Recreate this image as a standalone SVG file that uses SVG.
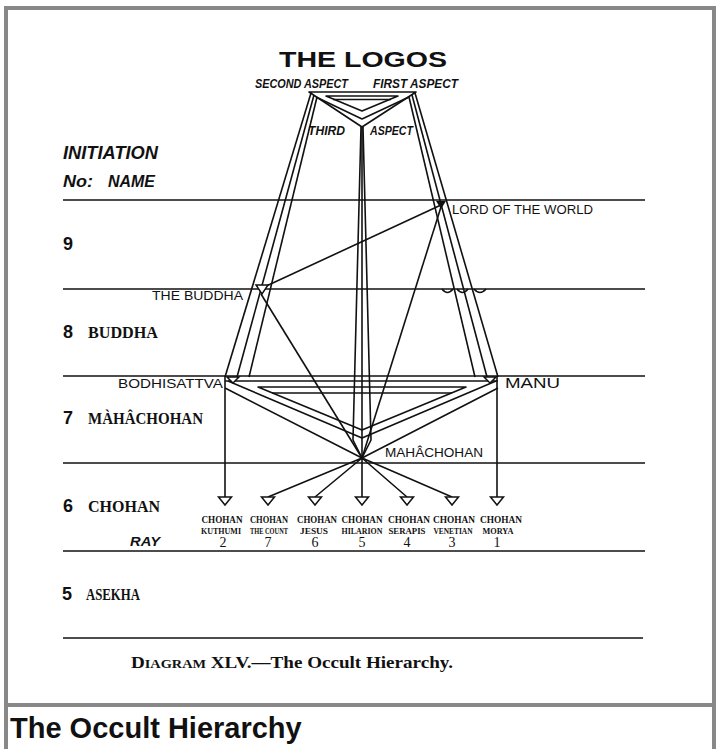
<svg xmlns="http://www.w3.org/2000/svg" width="719" height="749" viewBox="0 0 719 749">
<style>
.ln{stroke:#111;stroke-width:1.6;fill:none;stroke-linejoin:round}
.lvl{stroke:#111;stroke-width:1.5}
.sans{font-family:"Liberation Sans",Arial,sans-serif;fill:#111}
.ital{font-family:"Liberation Sans",Arial,sans-serif;font-style:italic;font-weight:bold;fill:#111}
.serif{font-family:"Liberation Serif","Times New Roman",serif;font-weight:bold;fill:#111}
.tri{fill:#fff;stroke:#111;stroke-width:1.5}
.cl{font-family:"Liberation Serif","Times New Roman",serif;font-size:9.5px;font-weight:bold;fill:#111;text-anchor:middle}
.nm{font-family:"Liberation Serif","Times New Roman",serif;font-size:7.5px;font-weight:bold;fill:#111;text-anchor:middle}
.rn{font-family:"Liberation Serif","Times New Roman",serif;font-size:14px;fill:#111;text-anchor:middle}
</style>
<rect width="719" height="749" fill="#fff"/>
<rect x="6" y="8" width="708" height="770" fill="none" stroke="#888" stroke-width="4"/>
<line x1="6" y1="705" x2="714" y2="705" stroke="#888" stroke-width="4"/>
<text x="10" y="738" class="sans" font-size="29" font-weight="bold">The Occult Hierarchy</text>

<g id="levels">
<line class="lvl" x1="63" y1="200" x2="645" y2="200"/>
<line class="lvl" x1="63" y1="289" x2="645" y2="289"/>
<line class="lvl" x1="63" y1="376" x2="645" y2="376"/>
<line class="lvl" x1="63" y1="463" x2="645" y2="463"/>
<line class="lvl" x1="63" y1="551" x2="645" y2="551"/>
<line class="lvl" x1="63" y1="638" x2="643" y2="638"/>
<text x="63" y="159" class="ital" font-size="18" textLength="95" lengthAdjust="spacingAndGlyphs">INITIATION</text>
<text x="63" y="187" class="ital" font-size="17" textLength="30" lengthAdjust="spacingAndGlyphs">No:</text>
<text x="108" y="187" class="ital" font-size="17" textLength="47" lengthAdjust="spacingAndGlyphs">NAME</text>
<text x="63" y="250" class="sans" font-size="18" font-weight="bold">9</text>
<text x="63" y="338" class="sans" font-size="18" font-weight="bold">8</text>
<text x="88" y="338" class="serif" font-size="16" textLength="70" lengthAdjust="spacingAndGlyphs">BUDDHA</text>
<text x="63" y="424" class="sans" font-size="18" font-weight="bold">7</text>
<text x="88" y="424" class="serif" font-size="16" textLength="115" lengthAdjust="spacingAndGlyphs">MÀHÂCHOHAN</text>
<text x="63" y="512" class="sans" font-size="18" font-weight="bold">6</text>
<text x="88" y="512" class="serif" font-size="16" textLength="72" lengthAdjust="spacingAndGlyphs">CHOHAN</text>
<text x="62" y="600" class="sans" font-size="18" font-weight="bold">5</text>
<text x="86" y="600" class="serif" font-size="16" textLength="54" lengthAdjust="spacingAndGlyphs">ASEKHA</text>
<text x="130" y="546" class="ital" font-size="12" textLength="30" lengthAdjust="spacingAndGlyphs">RAY</text>
</g>

<g id="connectors">
<path class="ln" d="M311,93 L225,377"/>
<path class="ln" d="M314,95 L237,377"/>
<path class="ln" d="M317,97 L249,377"/>
<path class="ln" d="M415,93 L498,377"/>
<path class="ln" d="M412,95 L487,377"/>
<path class="ln" d="M409,97 L475,377"/>
<path class="ln" d="M361,127 L353,440 L362,458"/>
<path class="ln" d="M362,127 L362,458"/>
<path class="ln" d="M363,127 L371,440 L362,458"/>
<path class="ln" d="M225,388 L362,458 L498,388"/>
<path class="ln" d="M228,381 L362,438 L496,381"/>
<path class="ln" d="M225,381 L498,381"/>
<path class="ln" d="M258,387 L466,387 L362,430 Z"/>
<path class="ln" d="M272,393 L452,393"/>
<path class="ln" d="M225,376 L225,497"/>
<path class="ln" d="M497,376 L497,497"/>
<path class="ln" d="M362,458 L268,497 M362,458 L315,497 M362,458 L362,497 M362,458 L407,497 M362,458 L452,497"/>
<path class="ln" d="M262,288 L441,205"/>
<path class="ln" d="M261,294 L362,458"/>
<path class="ln" d="M441,207 L362,458"/>
<path class="ln" d="M442,289 q5.5,7 11,0 M457,289 q5.5,7 11,0 M474,289 q6,7 12,0"/>
</g>

<g id="logos">
<text x="279" y="67" class="sans" font-size="22" font-weight="bold" textLength="168" lengthAdjust="spacingAndGlyphs">THE LOGOS</text>
<text x="255" y="88" class="ital" font-size="13" textLength="93" lengthAdjust="spacingAndGlyphs">SECOND ASPECT</text>
<text x="373" y="88" class="ital" font-size="13" textLength="85" lengthAdjust="spacingAndGlyphs">FIRST ASPECT</text>
<text x="308" y="135" class="ital" font-size="13" textLength="37" lengthAdjust="spacingAndGlyphs">THIRD</text>
<text x="370" y="135" class="ital" font-size="13" textLength="43" lengthAdjust="spacingAndGlyphs">ASPECT</text>
<path class="ln" d="M309,92 L416,92 L362,127 Z"/>
<path class="ln" d="M316,97 L362,119 L409,97"/>
<path class="ln" d="M326,96 L398,96 L362,111 Z"/>
<path class="ln" d="M333,99.5 L391,99.5"/>
</g>

<g id="lord-of-the-world">
<polygon points="436,201 446,201 441,209" fill="#111"/>
<text x="452" y="214" class="sans" font-size="13" textLength="141" lengthAdjust="spacingAndGlyphs">LORD OF THE WORLD</text>
</g>
<g id="the-buddha">
<polygon class="tri" points="256,285 268,285 262,294"/>
<text x="152" y="300" class="sans" font-size="12" textLength="91" lengthAdjust="spacingAndGlyphs">THE BUDDHA</text>
</g>
<g id="bodhisattva">
<polygon class="tri" points="227,377 239,377 233,383"/>
<text x="118" y="388" class="sans" font-size="13" textLength="105" lengthAdjust="spacingAndGlyphs">BODHISATTVA</text>
</g>
<g id="manu">
<polygon class="tri" points="484,377 496,377 490,383"/>
<text x="505" y="388" class="sans" font-size="14" textLength="55" lengthAdjust="spacingAndGlyphs">MANU</text>
</g>
<g id="mahachohan">
<text x="385" y="457" class="sans" font-size="13" textLength="98" lengthAdjust="spacingAndGlyphs">MAHÂCHOHAN</text>
</g>

<g id="chohan-2"><polygon class="tri" points="218.5,497 231.5,497 225,505"/><text x="222" y="523" class="cl" textLength="41" lengthAdjust="spacingAndGlyphs">CHOHAN</text><text x="221" y="534" class="nm" textLength="40" lengthAdjust="spacingAndGlyphs">KUTHUMI</text><text x="223" y="547" class="rn">2</text></g>
<g id="chohan-7"><polygon class="tri" points="261.5,497 274.5,497 268,505"/><text x="269" y="523" class="cl" textLength="38" lengthAdjust="spacingAndGlyphs">CHOHAN</text><text x="269" y="534" class="nm" textLength="38" lengthAdjust="spacingAndGlyphs">THE COUNT</text><text x="268" y="547" class="rn">7</text></g>
<g id="chohan-6"><polygon class="tri" points="308.5,497 321.5,497 315,505"/><text x="317" y="523" class="cl" textLength="40" lengthAdjust="spacingAndGlyphs">CHOHAN</text><text x="314" y="534" class="nm" textLength="28" lengthAdjust="spacingAndGlyphs">JESUS</text><text x="315" y="547" class="rn">6</text></g>
<g id="chohan-5"><polygon class="tri" points="355.5,497 368.5,497 362,505"/><text x="362" y="523" class="cl" textLength="41" lengthAdjust="spacingAndGlyphs">CHOHAN</text><text x="362" y="534" class="nm" textLength="41" lengthAdjust="spacingAndGlyphs">HILARION</text><text x="362" y="547" class="rn">5</text></g>
<g id="chohan-4"><polygon class="tri" points="400.5,497 413.5,497 407,505"/><text x="409" y="523" class="cl" textLength="42" lengthAdjust="spacingAndGlyphs">CHOHAN</text><text x="407" y="534" class="nm" textLength="37" lengthAdjust="spacingAndGlyphs">SERAPIS</text><text x="407" y="547" class="rn">4</text></g>
<g id="chohan-3"><polygon class="tri" points="445.5,497 458.5,497 452,505"/><text x="454" y="523" class="cl" textLength="42" lengthAdjust="spacingAndGlyphs">CHOHAN</text><text x="453" y="534" class="nm" textLength="39" lengthAdjust="spacingAndGlyphs">VENETIAN</text><text x="452" y="547" class="rn">3</text></g>
<g id="chohan-1"><polygon class="tri" points="490.5,497 503.5,497 497,505"/><text x="501" y="523" class="cl" textLength="42" lengthAdjust="spacingAndGlyphs">CHOHAN</text><text x="498" y="534" class="nm" textLength="31" lengthAdjust="spacingAndGlyphs">MORYA</text><text x="497" y="547" class="rn">1</text></g>

<text x="131" y="668" class="serif" font-size="16" textLength="322" lengthAdjust="spacingAndGlyphs">D<tspan font-size="12">IAGRAM</tspan> XLV.—The Occult Hierarchy.</text>
</svg>
